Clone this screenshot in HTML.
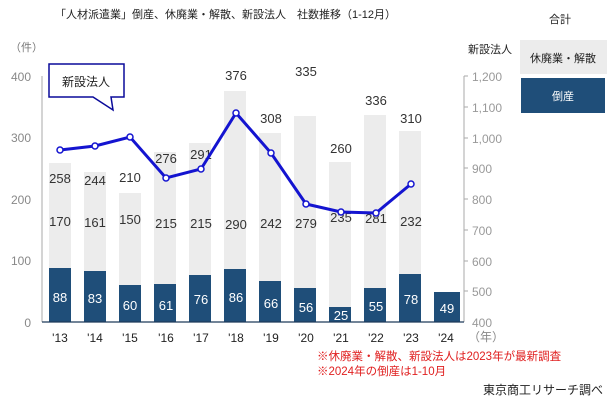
<!DOCTYPE html>
<html><head><meta charset="utf-8"><style>
html,body{margin:0;padding:0;background:#fff;}
svg{display:block;font-family:"Liberation Sans","Noto Sans CJK JP",sans-serif;}
</style></head><body>
<svg width="607" height="408" viewBox="0 0 607 408" xmlns="http://www.w3.org/2000/svg">
<text x="55" y="18" font-size="11" fill="#222">「人材派遣業」倒産、休廃業・解散、新設法人　社数推移（1-12月）</text>
<text x="549" y="23" font-size="11" fill="#222">合計</text>
<rect x="520" y="40" width="87" height="34" fill="#ececec"/>
<text x="563" y="62" font-size="11" fill="#222" text-anchor="middle">休廃業・解散</text>
<rect x="521" y="78" width="84" height="35" fill="#1f4e79"/>
<text x="563" y="100" font-size="11" fill="#fff" text-anchor="middle">倒産</text>
<text x="10" y="51" font-size="11" fill="#777">（件）</text>
<text x="468" y="53" font-size="11" fill="#222">新設法人</text>
<g font-size="12" fill="#888" text-anchor="end">
<text x="31" y="81">400</text><text x="31" y="142">300</text><text x="31" y="204">200</text><text x="31" y="265">100</text><text x="31" y="327">0</text>
</g>
<g font-size="12" fill="#999">
<text x="472" y="81">1,200</text><text x="472" y="112">1,100</text><text x="472" y="143">1,000</text><text x="472" y="173">900</text><text x="472" y="204">800</text><text x="472" y="235">700</text><text x="472" y="266">600</text><text x="472" y="296">500</text><text x="472" y="327">400</text>
</g>
<line x1="42" y1="76" x2="42" y2="322" stroke="#aaa"/>
<line x1="464" y1="76" x2="464" y2="322" stroke="#aaa"/>
<g stroke="#aaa"><line x1="464" y1="76" x2="468" y2="76"/><line x1="464" y1="107" x2="468" y2="107"/><line x1="464" y1="138" x2="468" y2="138"/><line x1="464" y1="168" x2="468" y2="168"/><line x1="464" y1="199" x2="468" y2="199"/><line x1="464" y1="230" x2="468" y2="230"/><line x1="464" y1="261" x2="468" y2="261"/><line x1="464" y1="291" x2="468" y2="291"/></g>
<g fill="#ececec">
<rect x="49" y="163" width="22" height="159"/><rect x="84" y="172" width="22" height="150"/><rect x="119" y="193" width="22" height="129"/><rect x="154" y="152" width="22" height="170"/><rect x="189" y="143" width="22" height="179"/><rect x="224" y="91" width="22" height="231"/><rect x="259" y="133" width="22" height="189"/><rect x="294" y="116" width="22" height="206"/><rect x="329" y="162" width="22" height="160"/><rect x="364" y="115" width="22" height="207"/><rect x="399" y="131" width="22" height="191"/>
</g>
<g fill="#1f4e79">
<rect x="49" y="268" width="22" height="54"/><rect x="84" y="271" width="22" height="51"/><rect x="119" y="285" width="22" height="37"/><rect x="154" y="284" width="22" height="38"/><rect x="189" y="275" width="22" height="47"/><rect x="224" y="269" width="22" height="53"/><rect x="259" y="281" width="22" height="41"/><rect x="294" y="288" width="22" height="34"/><rect x="329" y="307" width="22" height="15"/><rect x="364" y="288" width="22" height="34"/><rect x="399" y="274" width="22" height="48"/><rect x="434" y="292" width="26" height="30"/>
</g>
<line x1="42" y1="322" x2="464" y2="322" stroke="#1f3a5a" stroke-width="1.2"/>
<g font-size="13" fill="#333" text-anchor="middle">
<text x="60" y="183">258</text><text x="95" y="185">244</text><text x="130" y="182">210</text><text x="166" y="163">276</text><text x="201" y="159">291</text><text x="236" y="80">376</text><text x="271" y="123">308</text><text x="306" y="76">335</text><text x="341" y="153">260</text><text x="376" y="105">336</text><text x="411" y="123">310</text>
<text x="60" y="226">170</text><text x="95" y="227">161</text><text x="130" y="224">150</text><text x="166" y="228">215</text><text x="201" y="228">215</text><text x="236" y="229">290</text><text x="271" y="228">242</text><text x="306" y="228">279</text><text x="341" y="222">235</text><text x="376" y="223">281</text><text x="411" y="226">232</text>
</g>
<g font-size="13" fill="#fff" text-anchor="middle">
<text x="60" y="302">88</text><text x="95" y="303">83</text><text x="130" y="310">60</text><text x="166" y="310">61</text><text x="201" y="304">76</text><text x="236" y="302">86</text><text x="271" y="308">66</text><text x="306" y="312">56</text><text x="341" y="320">25</text><text x="376" y="311">55</text><text x="411" y="304">78</text><text x="447" y="313">49</text>
</g>
<polyline points="60,150 95,146 130,137 166,178 201,169 236,113 271,153 306,204 341,212 376,213 411,184" fill="none" stroke="#1414d0" stroke-width="3"/>
<g fill="#fff" stroke="#1414d0" stroke-width="1.5">
<circle cx="60" cy="150" r="3"/><circle cx="95" cy="146" r="3"/><circle cx="130" cy="137" r="3"/><circle cx="166" cy="178" r="3"/><circle cx="201" cy="169" r="3"/><circle cx="236" cy="113" r="3"/><circle cx="271" cy="153" r="3"/><circle cx="306" cy="204" r="3"/><circle cx="341" cy="212" r="3"/><circle cx="376" cy="213" r="3"/><circle cx="411" cy="184" r="3"/>
</g>
<path d="M49,64 H124 V97 H111 L113,110 L93,97 H49 Z" fill="#fff" stroke="#0a0a9a" stroke-width="1.5"/>
<text x="86" y="86" font-size="12" fill="#222" text-anchor="middle">新設法人</text>
<g font-size="12" fill="#222" text-anchor="middle">
<text x="60" y="342">'13</text><text x="95" y="342">'14</text><text x="130" y="342">'15</text><text x="166" y="342">'16</text><text x="201" y="342">'17</text><text x="236" y="342">'18</text><text x="271" y="342">'19</text><text x="306" y="342">'20</text><text x="341" y="342">'21</text><text x="376" y="342">'22</text><text x="411" y="342">'23</text><text x="446" y="342">'24</text>
</g>
<text x="468" y="341" font-size="12" fill="#888">（年）</text>
<text x="317" y="360" font-size="11.5" fill="#e02020">※休廃業・解散、新設法人は2023年が最新調査</text>
<text x="317" y="375" font-size="11.5" fill="#e02020">※2024年の倒産は1-10月</text>
<text x="483" y="394" font-size="12" fill="#222">東京商工リサーチ調べ</text>
</svg>
</body></html>
